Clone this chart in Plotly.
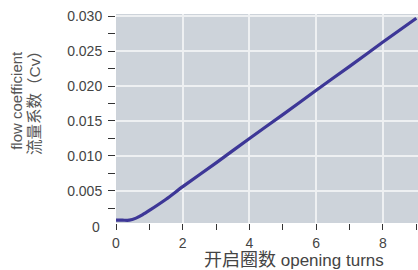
import plotly.graph_objects as go

turns = [0, 0.2, 0.4, 0.6, 0.8, 1.0, 1.5, 2, 3, 4, 5, 6, 7, 8, 9]
cv = [0.0008, 0.0008, 0.0008, 0.0011, 0.0016, 0.0022, 0.0038, 0.0056, 0.0090, 0.0125, 0.0159, 0.0194, 0.0228, 0.0263, 0.0297]

y_ticks = [0.005, 0.010, 0.015, 0.020, 0.025, 0.030]
y_labels = ["0.005", "0.010", "0.015", "0.020", "0.025", "0.030"]
x_ticks = [0, 2, 4, 6, 8]
x_labels = ["0", "2", "4", "6", "8"]

font_main = "Liberation Sans, Arial, Noto Sans CJK SC, sans-serif"
txt_color = "#444444"
title_font = "Liberation Sans, Noto Sans CJK SC, sans-serif"

fig = go.Figure()
fig.add_trace(go.Scatter(
    x=turns, y=cv, mode="lines",
    line=dict(color="#3d3797", width=3.2, shape="spline", smoothing=0.6),
    hoverinfo="skip", showlegend=False,
))

fig.update_layout(
    width=418, height=270,
    margin=dict(l=116, r=0, t=14, b=47, autoexpand=False),
    paper_bgcolor="white",
    plot_bgcolor="#cdd3da",
    font=dict(family=font_main, size=14, color=txt_color),
    xaxis=dict(
        range=[0, 9.05], tickvals=x_ticks, ticktext=x_labels,
        ticks="outside", ticklen=6, tickwidth=1, tickcolor="#333333",
        showgrid=True, gridcolor="#eef0f2", gridwidth=1.5,
        zeroline=False, showline=False, automargin=False,
        minor=dict(dtick=1, tick0=0, ticks="outside", ticklen=6, tickwidth=1,
                   tickcolor="#333333", showgrid=False),
        tickfont=dict(size=14, color=txt_color),
        ticklabelstandoff=1,
    ),
    yaxis=dict(
        range=[0.0004, 0.0303], tickvals=y_ticks, ticktext=y_labels,
        ticks="outside", ticklen=7, tickwidth=1, tickcolor="#333333",
        showgrid=True, gridcolor="#eef0f2", gridwidth=1.5,
        zeroline=False, showline=False, automargin=False,
        minor=dict(dtick=0.005, tick0=0.0025, ticks="outside", ticklen=7,
                   tickwidth=1, tickcolor="#333333", showgrid=False),
        tickfont=dict(size=14, color=txt_color),
        ticklabelstandoff=3,
    ),
    annotations=[
        dict(text="0", xref="paper", yref="paper", x=0, y=0, xanchor="right",
             yanchor="middle", xshift=-14, yshift=-4, showarrow=False,
             font=dict(size=14, color=txt_color)),
        dict(text="flow coefficient", xref="paper", yref="paper",
             x=-0.328, y=0.589, xanchor="center", yanchor="middle",
             textangle=-90, showarrow=False,
             font=dict(size=15, color="#555555", family=title_font)),
        dict(text="流量系数（Cv）", xref="paper", yref="paper",
             x=-0.268, y=0.594, xanchor="center", yanchor="middle",
             textangle=-90, showarrow=False,
             font=dict(size=15.5, color="#555555", family=title_font)),
        dict(text="<span style='font-size:18px'>开启圈数</span> opening turns",
             xref="paper", yref="paper",
             x=0.588, y=0, xanchor="center", yanchor="top", yshift=-25,
             showarrow=False,
             font=dict(size=17, color="#444444", family=title_font)),
    ],
)

fig.write_html("out.html", config={"displayModeBar": False},
               post_script="document.body.style.margin='0';document.body.style.overflow='hidden';")
